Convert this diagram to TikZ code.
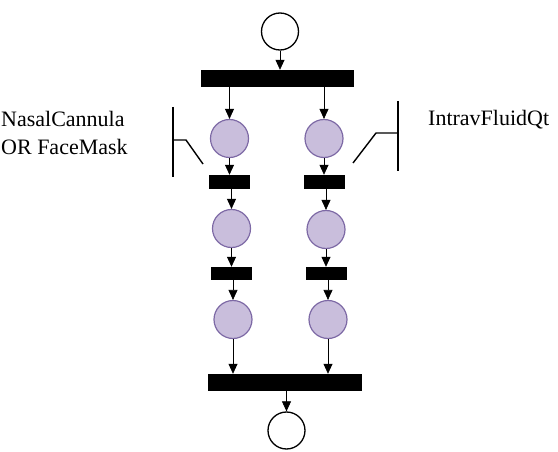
\documentclass[tikz,border=0pt]{standalone}
\usepackage{fontspec}
\setmainfont{Liberation Serif}
\usetikzlibrary{arrows.meta}
\definecolor{lav}{RGB}{201,190,220}
\definecolor{lavline}{RGB}{125,105,165}
\begin{document}
\begin{tikzpicture}[x=1pt,y=-1pt,
  place/.style={circle,draw=black,line width=1.3pt,fill=white,minimum size=37pt,inner sep=0pt},
  lplace/.style={circle,draw=lavline,line width=1.2pt,fill=lav,minimum size=38pt,inner sep=0pt},
  bigbar/.style={rectangle,fill=black,minimum width=153pt,minimum height=17pt,inner sep=0pt},
  smallbar/.style={rectangle,fill=black,minimum width=41pt,minimum height=14pt,inner sep=0pt},
  arr/.style={line width=0.7pt,-{Triangle[length=10pt,width=9pt]}},
  guard/.style={line width=1.4pt},
  lbl/.style={anchor=base west,inner sep=0pt,font=\fontsize{22}{26}\selectfont}
]
\useasboundingbox (0,0) rectangle (558,452);
% places and transitions
\node[place] (p0) at (280,31.5) {};
\node[bigbar] (tb) at (277.5,78.5) {};
\node[lplace] (L1) at (229.5,138.5) {};
\node[lplace] (R1) at (324,138.5) {};
\node[smallbar] (Lt1) at (229.5,182) {};
\node[smallbar] (Rt1) at (324,182) {};
\node[lplace] (L2) at (231.5,228.5) {};
\node[lplace] (R2) at (326,229.5) {};
\node[smallbar,minimum height=13pt] (Lt2) at (231.5,273.5) {};
\node[smallbar,minimum height=13pt] (Rt2) at (326,273.5) {};
\node[lplace] (L3) at (233,319.5) {};
\node[lplace] (R3) at (328,319.5) {};
\node[bigbar,minimum width=154pt] (bb) at (285,382.5) {};
\node[place] (p1) at (286.5,430.5) {};
% arcs
\draw[arr] (p0.south) -- (p0 |- tb.north);
\draw[arr] (L1 |- tb.south) -- (L1.north);
\draw[arr] (R1 |- tb.south) -- (R1.north);
\draw[arr] (L1.south) -- (Lt1.north);
\draw[arr] (R1.south) -- (Rt1.north);
\draw[arr] (L2 |- Lt1.south) -- (L2.north);
\draw[arr] (R2 |- Rt1.south) -- (R2.north);
\draw[arr] (L2.south) -- (L2 |- Lt2.north);
\draw[arr] (R2.south) -- (R2 |- Rt2.north);
\draw[arr] (L3 |- Lt2.south) -- (L3.north);
\draw[arr] (R3 |- Rt2.south) -- (R3.north);
\draw[arr] (L3.south) -- (L3 |- bb.north);
\draw[arr] (R3.south) -- (R3 |- bb.north);
\draw[arr] (p1 |- bb.south) -- (p1.north);
% guards
\draw[guard] (173,107) -- (173,177);
\draw[guard] (173,140) -- (186,140) -- (203,164);
\draw[guard] (398,101) -- (398,171);
\draw[guard] (398,133) -- (376,133) -- (353,163);
% labels
\node[lbl] (g1a) at (1,127) {NasalCannula};
\node[lbl] (g1b) at (1,154) {OR FaceMask};
\node[lbl] (g2) at (428,126) {IntravFluidQt};
\end{tikzpicture}
\end{document}
